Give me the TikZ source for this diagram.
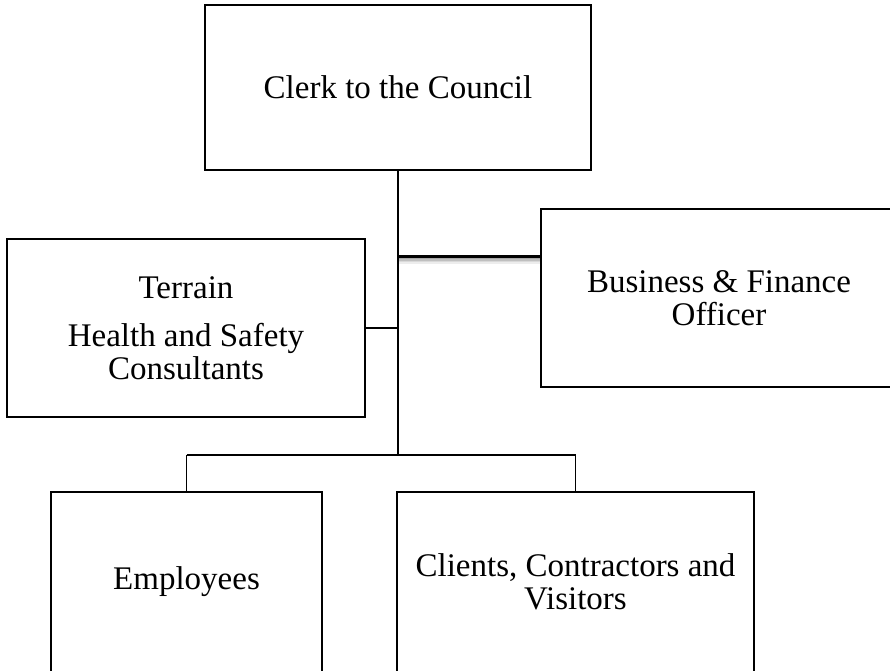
\documentclass[tikz,border=0pt]{standalone}
\usepackage{fontspec}
\setmainfont{Liberation Serif}
\begin{document}
\begin{tikzpicture}[x=1pt,y=-1pt,
  orgbox/.style={draw=black, line width=2pt, fill=white, inner sep=0pt},
  orgtext/.style={align=center, font=\fontsize{33}{33}\selectfont, inner sep=0pt},
  link/.style={draw=black, line width=1.8pt}]
\useasboundingbox (0,0) rectangle (890,670);
\clip (0,0) rectangle (890,670);
% boxes
\node[orgbox, minimum width=386pt, minimum height=165pt] (clerk) at (398,87.5) {};
\node[orgbox, minimum width=358pt, minimum height=178pt] (terrain) at (186,328) {};
\node[orgbox, minimum width=356pt, minimum height=178pt] (business) at (719,298) {};
\node[orgbox, minimum width=271pt, minimum height=180pt] (employees) at (186.5,582) {};
\node[orgbox, minimum width=357pt, minimum height=180pt] (clients) at (575.5,582) {};
% texts
\node[orgtext] (tclerk) at (clerk) {Clerk to the Council};
\node[orgtext] (tterrain) at (terrain) {Terrain\\[15pt]Health and Safety\\Consultants};
\node[orgtext] (tbusiness) at (business) {Business \& Finance\\Officer};
\node[orgtext] (temployees) at (186.5,582) {Employees};
\node[orgtext] (tclients) at (575.5,582) {Clients, Contractors and\\Visitors};
% junction coordinates
\coordinate (jb) at (clerk.south |- 256,256);
\coordinate (jt) at (clerk.south |- 328,328);
\coordinate (jd) at (clerk.south |- 455,455);
\coordinate (je) at (employees.north |- jd);
\coordinate (jc) at (clients.north |- jd);
% connectors
\draw[link] (clerk.south) -- (jd);
\draw[link] (jt) -- (terrain.east |- jt);
\draw[link] (je) -- (jc);
\draw[link] (je) -- (employees.north);
\draw[link] (jc) -- (clients.north);
% shadowed thick connector to business
\foreach \d/\o in {2.5/0.35,4/0.25,5.5/0.15,7/0.07}{
  \draw[line width=1.6pt, draw=black, opacity=\o] ([yshift=-\d pt]jb) -- ([yshift=-\d pt]business.west |- jb);
}
\draw[draw=black, line width=3pt] (jb) -- (business.west |- jb);
\end{tikzpicture}
\end{document}
